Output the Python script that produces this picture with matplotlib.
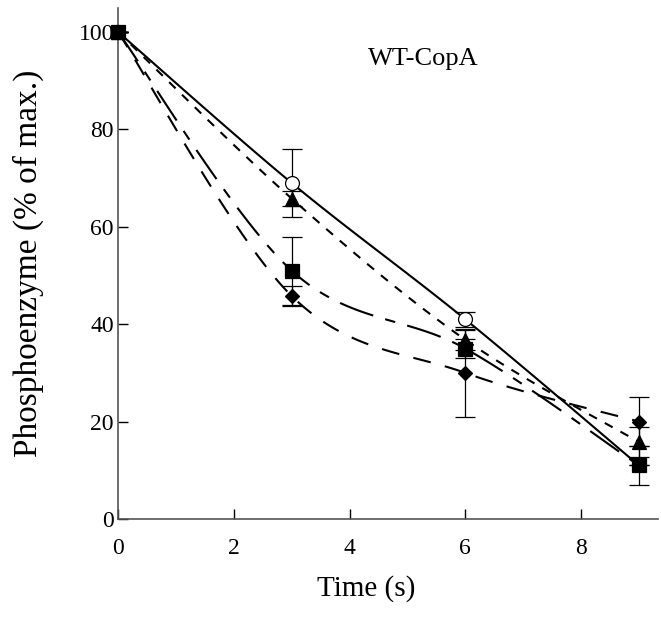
import numpy as np
import matplotlib.pyplot as plt

plt.rcParams['font.family'] = ['Liberation Serif', 'DejaVu Serif']

time = [0, 3, 6, 9]

circle_y = [100, 69, 41, 11]
circle_err = [0, 7, 1.5, 0]
triangle_y = [100, 65.8, 36.8, 15.8]
triangle_err = [0, 1.5, 2, 3]
square_y = [100, 51, 35, 11]
square_err = [0, 7, 2, 4]
diamond_y = [100, 45.8, 30, 20]
diamond_err = [0, 2, 9, 5]


def smooth(x, y, n=40):
    # excel-like bezier smoothing through the points
    x = np.asarray(x, float)
    y = np.asarray(y, float)
    pts = np.column_stack([x, y])
    out = [pts[0]]
    for i in range(len(pts) - 1):
        p0 = pts[i - 1] if i > 0 else pts[i]
        p1 = pts[i]
        p2 = pts[i + 1]
        p3 = pts[i + 2] if i + 2 < len(pts) else pts[i + 1]
        c1 = p1 + (p2 - p0) / 6
        c2 = p2 - (p3 - p1) / 6
        t = np.linspace(0, 1, n)[1:, None]
        seg = (1 - t) ** 3 * p1 + 3 * (1 - t) ** 2 * t * c1 + 3 * (1 - t) * t ** 2 * c2 + t ** 3 * p2
        out.extend(seg)
    out = np.array(out)
    return out[:, 0], out[:, 1]


# square markers last so the filled square sits on top at t=0
series = [
    {'y': circle_y, 'err': circle_err, 'marker': 'o', 'face': 'white', 'ls': '-', 'ms': 10, 'z': 4},
    {'y': triangle_y, 'err': triangle_err, 'marker': '^', 'face': 'black', 'ls': (0, (4.3, 4.3)), 'ms': 10, 'z': 4},
    {'y': square_y, 'err': square_err, 'marker': 's', 'face': 'black', 'ls': (0, (17, 6, 5, 6)), 'ms': 10.5, 'z': 5},
    {'y': diamond_y, 'err': diamond_err, 'marker': 'D', 'face': 'black', 'ls': (0, (8.6, 7)), 'ms': 7.5, 'z': 4},
]

fig = plt.figure(figsize=(6.61, 6.21), dpi=100)
ax = fig.add_axes([118 / 661, 102 / 621, 540 / 661, 511.4 / 621])

for s in series:
    sx, sy = smooth(time, s['y'])
    ax.plot(sx, sy, color='black', linestyle=s['ls'], linewidth=1.5, zorder=2)
    ax.errorbar(time, s['y'], yerr=s['err'], fmt='none', ecolor='black', elinewidth=0.9,
                capsize=7, capthick=0.9, zorder=3)
    ax.plot(time, s['y'], linestyle='none', marker=s['marker'], markersize=s['ms'],
            markerfacecolor=s['face'], markeredgecolor='black', markeredgewidth=0.9,
            zorder=s['z'], clip_on=False)

ax.set_xlim(0, 9.33)
ax.set_ylim(0, 105)
ax.set_xticks([0, 2, 4, 6, 8])
ax.set_yticks([0, 20, 40, 60, 80, 100])
ax.tick_params(direction='in', length=7, width=1, labelsize=17, colors='black')
ax.tick_params(axis='x', pad=14)
ax.tick_params(axis='y', pad=3)
for side in ['top', 'right']:
    ax.spines[side].set_visible(False)
for side in ['left', 'bottom']:
    ax.spines[side].set_color('#555555')
    ax.spines[side].set_linewidth(1.2)

ax.text(0.565, 0.899, 'WT-CopA', transform=ax.transAxes, fontsize=19, ha='center', va='center')
ax.set_xlabel('Time (s)', fontsize=21)
ax.xaxis.set_label_coords(0.46, -0.11)
ax.set_ylabel('Phosphoenzyme (% of max.)', fontsize=24)
ax.yaxis.set_label_coords(-0.137, 0.5)

fig.savefig('out.png', dpi=100)
